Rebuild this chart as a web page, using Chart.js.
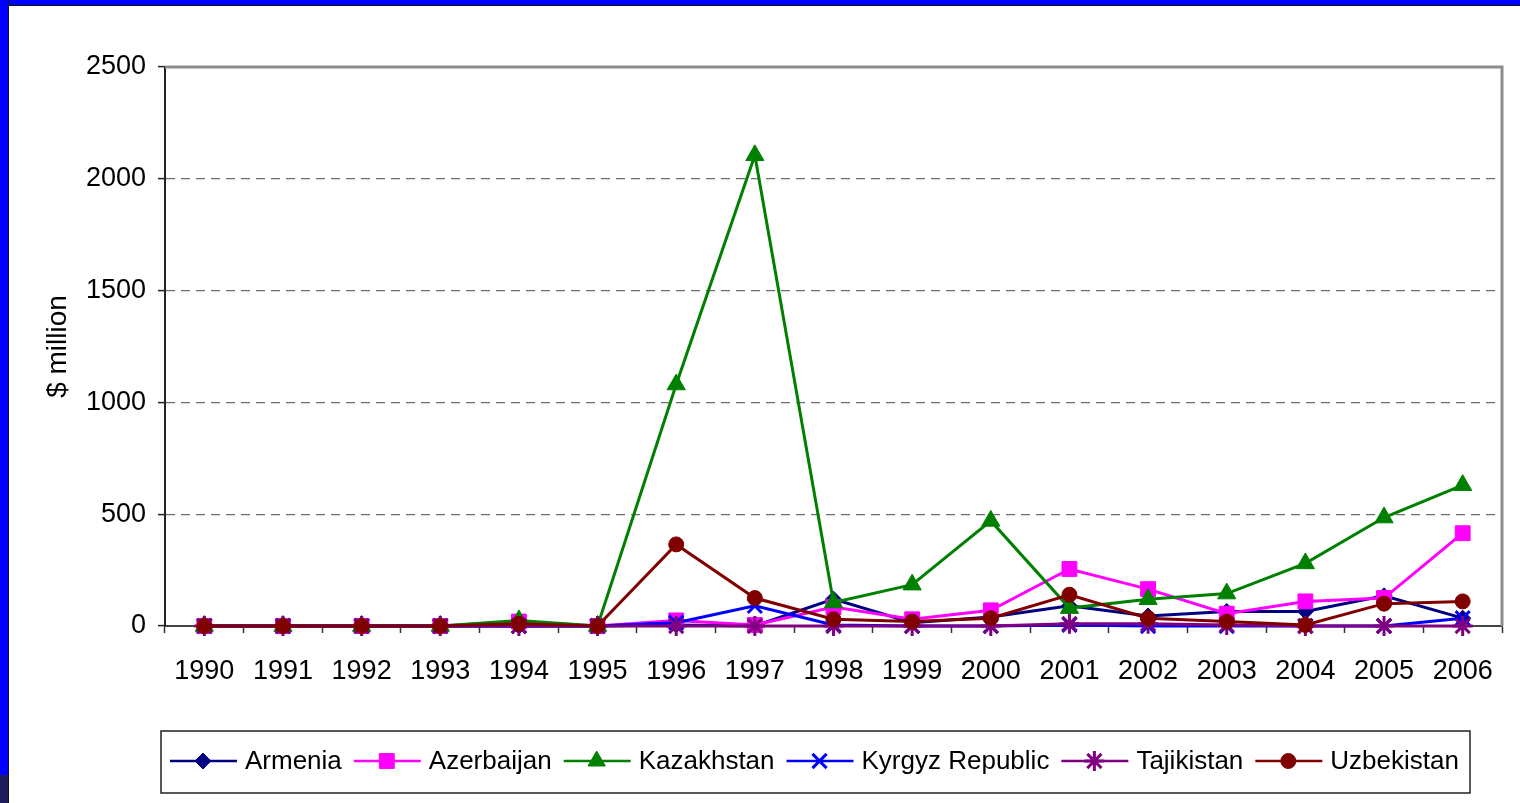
<!DOCTYPE html>
<html>
<head>
<meta charset="utf-8">
<script src="https://cdn.jsdelivr.net/npm/chart.js@4.4.1/dist/chart.umd.min.js"></script>
<style>
  html, body { margin: 0; padding: 0; background: #fff; }
  #wrap { position: relative; width: 1520px; height: 803px; overflow: hidden; }
  #chart-line { position: absolute; left: 0; top: 0; }
  .bar { position: absolute; }
</style>
</head>
<body>
<div id="wrap">
  <canvas id="chart-line" width="1520" height="803"></canvas>
  <div class="bar" style="left:0;top:0;width:1520px;height:5px;background:#0000ff;border-bottom:1px solid #111;"></div>
  <div class="bar" style="left:0;top:0;width:8px;height:775px;background:#0000ff;border-right:1px solid #111;"></div>
  <div class="bar" style="left:0;top:775px;width:8px;height:28px;background:#1c1c5e;border-right:1px solid #111;"></div>
</div>
<script>
// data
const years = ["1990", "1991", "1992", "1993", "1994", "1995", "1996", "1997", "1998",
  "1999", "2000", "2001", "2002", "2003", "2004", "2005", "2006"];
const yTicks = [0, 500, 1000, 1500, 2000, 2500];

const armenia = [0, 0, 0, 0, 0, 0, 5, 0, 120, 15, 40, 90, 45, 65, 65, 135, 35];
const azerbaijan = [0, 0, 0, 0, 20, 0, 25, 5, 85, 30, 70, 255, 165, 55, 110, 125, 415];
const kazakhstan = [0, 0, 0, 0, 25, 0, 1080, 2105, 105, 185, 470, 80, 120, 145, 280, 485, 630];
const kyrgyz = [0, 0, 0, 0, 0, 0, 15, 90, 5, 0, 0, 5, 0, 0, 0, 0, 35];
const tajikistan = [0, 0, 0, 0, 0, 0, 0, 0, 0, 0, 0, 10, 10, 5, 0, 0, 0];
const uzbekistan = [0, 0, 0, 0, 10, 0, 365, 125, 30, 20, 35, 140, 35, 20, 5, 100, 110];

const FONT = "'Liberation Sans', Arial, sans-serif";

function series(label, data, color, style, radius, i) {
  const open = style === "crossRot" || style === "star";
  return {
    label: label,
    data: data,
    borderColor: color,
    backgroundColor: color,
    borderWidth: 3,
    tension: 0,
    pointStyle: style,
    pointRadius: radius,
    pointHoverRadius: radius,
    pointBackgroundColor: color,
    pointBorderColor: color,
    pointBorderWidth: open ? 3 : 1,
    clip: false,
    order: 5 - i,
  };
}

const datasets = [
  series("Armenia", armenia, "#000080", "rectRot", 8, 0),
  series("Azerbaijan", azerbaijan, "#ff00ff", "rect", 10.5, 1),
  series("Kazakhstan", kazakhstan, "#008000", "triangle", 10.5, 2),
  series("Kyrgyz Republic", kyrgyz, "#0000ff", "crossRot", 10, 3),
  series("Tajikistan", tajikistan, "#800080", "star", 10, 4),
  series("Uzbekistan", uzbekistan, "#800000", "circle", 7.5, 5),
];

// top/right grey frame of the plot area
const frame = {
  id: "frame",
  beforeDatasetsDraw(chart) {
    const { ctx, chartArea: a } = chart;
    ctx.save();
    ctx.strokeStyle = "#8c8c8c";
    ctx.lineWidth = 3;
    ctx.beginPath();
    ctx.moveTo(a.left, a.top);
    ctx.lineTo(a.right, a.top);
    ctx.lineTo(a.right, a.bottom);
    ctx.stroke();
    ctx.restore();
  },
};

// boxed legend with line + marker samples
const boxLegend = {
  id: "boxLegend",
  afterDraw(chart) {
    const ctx = chart.ctx;
    ctx.save();
    ctx.strokeStyle = "#222";
    ctx.lineWidth = 1.5;
    ctx.strokeRect(161, 731, 1309, 62);
    ctx.font = "26px " + FONT;
    ctx.textBaseline = "middle";
    let x = 170;
    const y = 761;
    chart.data.datasets.forEach((ds) => {
      ctx.strokeStyle = ds.borderColor;
      ctx.fillStyle = ds.borderColor;
      ctx.lineWidth = 2.5;
      ctx.beginPath();
      ctx.moveTo(x, y);
      ctx.lineTo(x + 67, y);
      ctx.stroke();
      ctx.lineWidth = ds.pointBorderWidth;
      Chart.helpers.drawPoint(ctx, {
        pointStyle: ds.pointStyle,
        radius: ds.pointStyle === "triangle" ? 10 : ds.pointRadius,
        rotation: 0,
        borderWidth: ds.pointBorderWidth,
      }, x + 33, y);
      ctx.fillStyle = "#000";
      ctx.fillText(ds.label, x + 75, y + 1);
      x += 75 + ctx.measureText(ds.label).width + 12;
    });
    ctx.restore();
  },
};

const ctx1 = document.getElementById("chart-line").getContext("2d");

new Chart(ctx1, {
  type: "line",
  data: {
    labels: years,
    datasets: datasets,
  },
  options: {
    responsive: false,
    animation: false,
    events: [],
    layout: {
      padding: { left: 0, top: 67, right: 18, bottom: 117 },
    },
    plugins: {
      legend: { display: false },
      tooltip: { enabled: false },
    },
    scales: {
      x: {
        type: "category",
        offset: true,
        afterFit(scale) {
          scale.height = 60;
        },
        grid: {
          offset: true,
          drawOnChartArea: false,
          drawTicks: true,
          tickLength: 7,
          tickColor: "#333",
          tickWidth: 1.5,
        },
        border: { display: true, color: "#444", width: 2 },
        ticks: {
          color: "#000",
          padding: 22,
          maxRotation: 0,
          autoSkip: false,
          font: { size: 27, family: FONT },
        },
      },
      y: {
        min: 0,
        max: 2500,
        afterFit(scale) {
          scale.width = 165;
        },
        afterBuildTicks(scale) {
          scale.ticks = yTicks.map((v) => ({ value: v }));
        },
        grid: {
          drawTicks: true,
          tickLength: 7,
          tickColor: "#222",
          tickWidth: 1.5,
          lineWidth: 1.2,
          color: (c) => (c.tick && (c.tick.value === 0 || c.tick.value === 2500)) ? "rgba(0,0,0,0)" : "#6e6e6e",
        },
        border: { display: true, color: "#222", width: 2, dash: [9, 6] },
        title: {
          display: true,
          text: "$ million",
          color: "#000",
          padding: { top: 41, bottom: 0 },
          font: { size: 28, family: FONT },
        },
        ticks: {
          color: "#000",
          padding: 12,
          font: { size: 27, family: FONT },
          callback: (v) => String(v),
        },
      },
    },
  },
  plugins: [frame, boxLegend],
});
</script>
</body>
</html>
